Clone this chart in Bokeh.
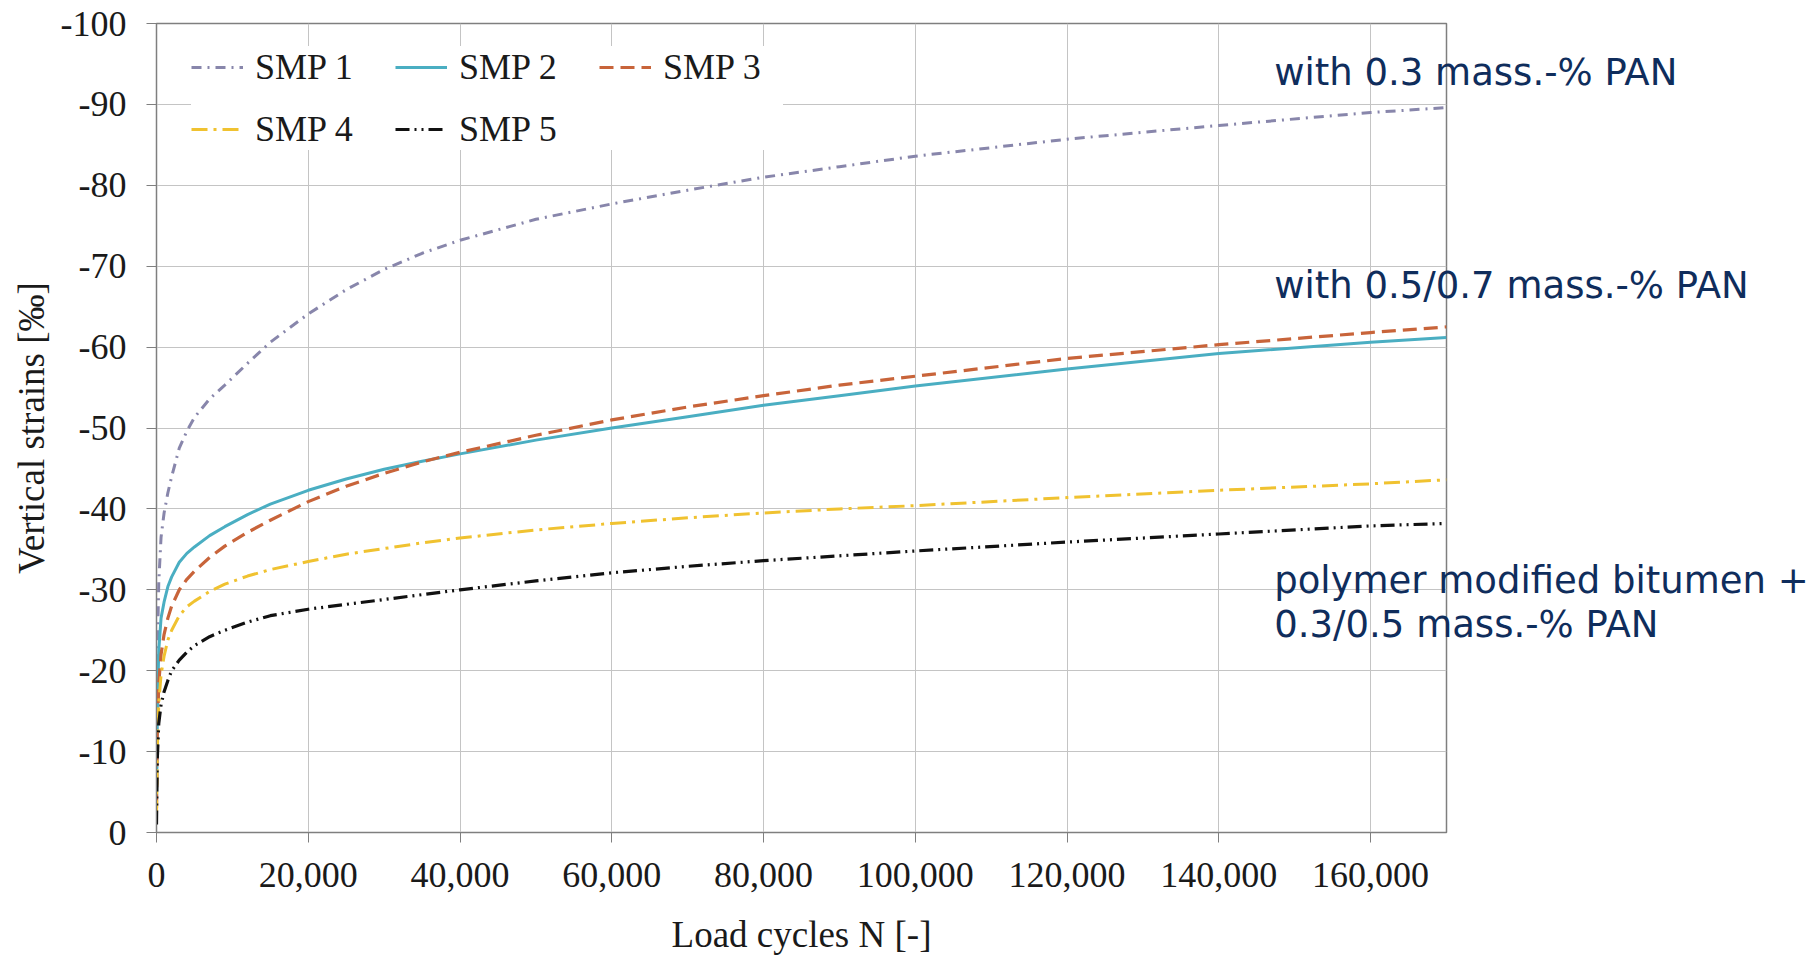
from bokeh.plotting import figure
from bokeh.models import (Range1d, SingleIntervalTicker, NumeralTickFormatter,
                          Legend, LegendItem, ColumnDataSource)
from bokeh.core.properties import value
from bokeh.embed import file_html
from bokeh.resources import INLINE

# ---------------- data ----------------
cycles = [0, 100, 300, 600, 1000, 1500, 2000, 3000, 4000, 5000, 7000, 9000, 12000,
          15000, 20000, 25000, 30000, 35000, 40000, 50000, 60000, 70000, 80000,
          90000, 100000, 120000, 140000, 160000, 170000]

smp1 = [-3, -22, -31, -36.5, -39.5, -42.0, -44.0, -47.5, -49.6, -51.3, -53.6, -55.3, -58.0,
        -60.6, -64.1, -67.1, -69.6, -71.6, -73.2, -75.8, -77.7, -79.4, -81.0,
        -82.3, -83.6, -85.7, -87.4, -89.0, -89.6]
smp2 = [-3, -15, -22.5, -26.5, -28.5, -30.4, -31.6, -33.4, -34.5, -35.3, -36.7, -37.8, -39.3,
        -40.6, -42.3, -43.7, -44.9, -45.9, -46.8, -48.5, -50.0, -51.4, -52.8,
        -54.0, -55.2, -57.3, -59.2, -60.6, -61.2]
smp3 = [-3, -12, -18.5, -22, -24.5, -26.5, -28.0, -30.0, -31.3, -32.3, -34.0, -35.4, -37.1,
        -38.6, -40.9, -42.8, -44.4, -45.8, -47.0, -49.1, -51.0, -52.6, -54.0,
        -55.3, -56.4, -58.6, -60.3, -61.8, -62.5]
smp4 = [-2, -10, -16, -19.5, -21.8, -23.8, -25.0, -26.8, -27.9, -28.6, -29.8, -30.7, -31.7,
        -32.5, -33.5, -34.4, -35.1, -35.8, -36.4, -37.4, -38.2, -38.9, -39.5,
        -40.0, -40.4, -41.4, -42.3, -43.1, -43.6]
smp5 = [-1, -9, -13.5, -15.8, -17.4, -18.8, -20.0, -21.3, -22.3, -23.1, -24.2, -25.0, -26.0,
        -26.8, -27.6, -28.2, -28.8, -29.4, -30.0, -31.1, -32.1, -32.9, -33.6,
        -34.2, -34.8, -35.9, -36.9, -37.9, -38.2]

series_names = ["SMP 1", "SMP 2", "SMP 3", "SMP 4", "SMP 5"]
series_values = [smp1, smp2, smp3, smp4, smp5]

annotations = ["with 0.3 mass.-% PAN",
               "with 0.5/0.7 mass.-% PAN",
               "polymer modified bitumen +",
               "0.3/0.5 mass.-% PAN"]
annotation_y = [-93.9, -67.6, -31.2, -25.7]
annotation_x = [147300, 147300, 147300, 147300]

# ---------------- styles ----------------
colors = ["#8886ab", "#4aaec2", "#c8643a", "#f0c230", "#111111"]
dashes = ["10 6 2 6", "solid", "14 7", "16 6 3 6", "14 5 2 5 2 5"]
widths = [3, 3, 3.2, 3, 3.2]

SERIF = "Liberation Serif"

p = figure(width=1814, height=957, output_backend="svg", toolbar_location=None,
           x_range=Range1d(0, 170000), y_range=Range1d(0, -100),
           min_border_left=156, min_border_right=368, min_border_top=23,
           min_border_bottom=124)
p.background_fill_color = "white"
p.border_fill_color = "white"
p.outline_line_color = "#7f7f7f"
p.outline_line_width = 1.5

renderers = []
for name, vals, c, d, w in zip(series_names, series_values, colors, dashes, widths):
    r = p.line(cycles, vals, line_color=c, line_dash=d, line_width=w)
    renderers.append(r)

# axes
p.xaxis.ticker = SingleIntervalTicker(interval=20000)
p.xaxis.formatter = NumeralTickFormatter(format="0,0")
p.yaxis.ticker = SingleIntervalTicker(interval=10)
p.yaxis.formatter = NumeralTickFormatter(format="0")
for ax in (p.xaxis[0], p.yaxis[0]):
    ax.major_label_text_font = SERIF
    ax.major_label_text_font_size = "36px"
    ax.major_label_text_color = "#1a1a1a"
    ax.axis_label_text_font = SERIF
    ax.axis_label_text_font_size = "37px"
    ax.axis_label_text_font_style = "normal"
    ax.axis_label_text_color = "#1a1a1a"
    ax.axis_line_color = "#7f7f7f"
    ax.major_tick_line_color = "#7f7f7f"
    ax.major_tick_out = 10
    ax.major_tick_in = 0
    ax.minor_tick_line_color = None
p.xaxis.axis_label = "Load cycles N [-]"
p.yaxis.axis_label = "Vertical strains [‰]"
p.xaxis.major_label_standoff = 20
p.xaxis.axis_label_standoff = 24
p.yaxis.major_label_standoff = 20
p.yaxis.axis_label_standoff = 6

p.xgrid.ticker = SingleIntervalTicker(interval=20000)
p.ygrid.ticker = SingleIntervalTicker(interval=10)
p.grid.grid_line_color = "#c4c4c4"
p.grid.grid_line_width = 1

legend = Legend(items=[LegendItem(label=n, renderers=[r]) for n, r in zip(series_names, renderers)],
                location=(35, 682), orientation="horizontal", ncols=3)
legend.label_text_font = SERIF
legend.label_text_font_size = "36px"
legend.label_text_color = "#1a1a1a"
legend.glyph_width = 52
legend.glyph_height = 40
legend.label_width = 120
legend.label_height = 40
legend.label_standoff = 12
legend.spacing = 20
legend.padding = 0
legend.margin = 0
legend.border_line_color = None
legend.background_fill_color = "white"
legend.background_fill_alpha = 1.0
p.add_layout(legend, "center")

src = ColumnDataSource(dict(x=annotation_x, y=annotation_y, text=annotations))
p.text(x="x", y="y", text="text", source=src, text_font=value("DejaVu Sans"),
       text_font_size="37px", text_color="#0f2d5c", text_baseline="middle",
       text_align="left", level="overlay")

open("out.html", "w").write(file_html(p, INLINE))
